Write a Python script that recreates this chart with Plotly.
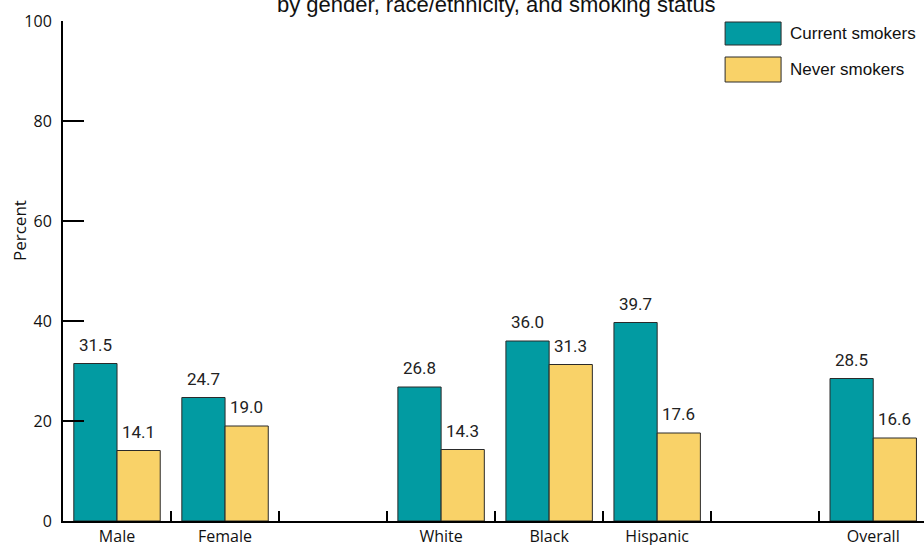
import plotly.graph_objects as go

# Data
slots = ["Male", "Female", "", "White", "Black", "Hispanic", "", "Overall"]
categories = ["Male", "Female", "White", "Black", "Hispanic", "Overall"]
current_smokers = [31.5, 24.7, 26.8, 36.0, 39.7, 28.5]
never_smokers = [14.1, 19.0, 14.3, 31.3, 17.6, 16.6]
y_ticks = [0, 20, 40, 60, 80, 100]
series_names = ["Current smokers", "Never smokers"]

TEAL = "#029ba2"
YELLOW = "#f9d268"
OUTLINE = "#2a2a2a"

xpos = [slots.index(c) for c in categories]
boundaries = [i + 0.5 for i in range(len(slots) - 1)]

fig = go.Figure()
fig.add_trace(go.Bar(x=xpos, y=current_smokers, name=series_names[0],
                     marker=dict(color=TEAL, line=dict(color=OUTLINE, width=1)),
                     showlegend=False, hoverinfo="skip"))
fig.add_trace(go.Bar(x=xpos, y=never_smokers, name=series_names[1],
                     marker=dict(color=YELLOW, line=dict(color=OUTLINE, width=1)),
                     showlegend=False, hoverinfo="skip"))
# invisible trace to host the boundary-tick axis
fig.add_trace(go.Scatter(x=[xpos[0]], y=[0], xaxis="x2", mode="markers",
                         marker=dict(opacity=0), showlegend=False, hoverinfo="skip"))

annotations = []
for x, v in zip(xpos, current_smokers):
    annotations.append(dict(x=x - 0.2, y=v, xref="x", yref="y", text=f"{v:.1f}",
                            showarrow=False, yanchor="bottom", yshift=7,
                            font=dict(family="Roboto", size=17, color="#222")))
for x, v in zip(xpos, never_smokers):
    annotations.append(dict(x=x + 0.2, y=v, xref="x", yref="y", text=f"{v:.1f}",
                            showarrow=False, yanchor="bottom", yshift=7,
                            font=dict(family="Roboto", size=17, color="#222")))

# Title (first line is cut off at top in original)
annotations.append(dict(x=0.504, y=1, xref="paper", yref="paper",
                        text="by gender, race/ethnicity, and smoking status",
                        showarrow=False, yanchor="bottom", xanchor="center", yshift=2,
                        font=dict(family="Liberation Sans, Arial", size=22, color="#111")))
# Y axis title
annotations.append(dict(x=0, y=0.58, xref="paper", yref="paper", text="Percent",
                        textangle=-90, showarrow=False, xanchor="center", yanchor="middle",
                        xshift=-44, font=dict(family="Open Sans", size=17, color="#111")))

# Custom legend
shapes = []
legend_items = [(series_names[0], TEAL, 0.998, 0.952), (series_names[1], YELLOW, 0.928, 0.878)]
for name, col, y1, y0 in legend_items:
    shapes.append(dict(type="rect", xref="paper", yref="paper", x0=0.769, x1=0.834,
                       y0=y0, y1=y1, fillcolor=col, line=dict(color=OUTLINE, width=1)))
    annotations.append(dict(x=0.842, y=(y0 + y1) / 2, xref="paper", yref="paper", text=name,
                            showarrow=False, xanchor="left", yanchor="middle",
                            font=dict(family="Liberation Sans, Arial", size=17, color="#111")))

xr = [-0.5, 7.47]
fig.update_layout(
    width=924, height=545,
    margin=dict(l=63, r=0, t=21, b=24, autoexpand=False),
    paper_bgcolor="white", plot_bgcolor="white",
    barmode="group", bargap=0.2, bargroupgap=0,
    annotations=annotations, shapes=shapes,
    xaxis=dict(range=xr, tickmode="array", tickvals=xpos, ticktext=categories,
               ticks="", showgrid=False, zeroline=False, showline=True,
               linecolor="black", linewidth=2, ticklabelstandoff=0,
               tickfont=dict(family="Open Sans", size=16, color="#111")),
    xaxis2=dict(range=xr, overlaying="x", anchor="y", side="bottom",
                tickmode="array", tickvals=boundaries, ticks="inside", ticklen=10,
                tickwidth=2, tickcolor="black", showticklabels=False,
                showgrid=False, zeroline=False, showline=False),
    yaxis=dict(range=[0, 100], tickmode="array", tickvals=y_ticks,
               ticks="inside", ticklen=21, tickwidth=2, tickcolor="black",
               showgrid=False, zeroline=False, showline=True, linecolor="black",
               linewidth=2, ticklabelstandoff=6,
               tickfont=dict(family="Open Sans", size=16, color="#111")),
    font=dict(family="Open Sans"),
)

fig.write_html("out.html", config={"displayModeBar": False},
               post_script="document.body.style.margin='0';document.body.style.overflow='hidden';")
